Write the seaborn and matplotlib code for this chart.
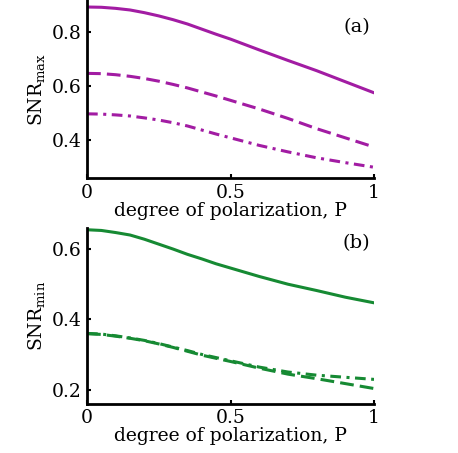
import numpy as np
import matplotlib
matplotlib.use("Agg")
import matplotlib.pyplot as plt
import seaborn as sns

# degree of polarization
P = [0.0, 0.05, 0.1, 0.15, 0.2, 0.25, 0.3, 0.35, 0.4, 0.45, 0.5,
     0.6, 0.7, 0.8, 0.9, 1.0]

# panel (a): SNR_max
snr_max_solid = [0.894, 0.893, 0.889, 0.883, 0.873, 0.861, 0.847, 0.831, 0.812, 0.793, 0.775,
                 0.735, 0.696, 0.658, 0.617, 0.576]
snr_max_dashed = [0.648, 0.647, 0.643, 0.637, 0.629, 0.619, 0.607, 0.594, 0.579, 0.564, 0.548,
                  0.516, 0.481, 0.443, 0.409, 0.375]
snr_max_dashdot = [0.498, 0.497, 0.494, 0.490, 0.483, 0.475, 0.465, 0.453, 0.438, 0.423, 0.409,
                   0.381, 0.357, 0.335, 0.317, 0.300]

# panel (b): SNR_min
snr_min_solid = [0.655, 0.653, 0.647, 0.640, 0.628, 0.614, 0.600, 0.585, 0.572, 0.558, 0.546,
                 0.522, 0.500, 0.482, 0.463, 0.447]
snr_min_dashed = [0.359, 0.357, 0.352, 0.346, 0.339, 0.330, 0.320, 0.309, 0.298, 0.289, 0.280,
                  0.261, 0.244, 0.231, 0.217, 0.203]
snr_min_dashdot = [0.360, 0.358, 0.353, 0.347, 0.340, 0.331, 0.321, 0.311, 0.300, 0.291, 0.282,
                   0.264, 0.250, 0.241, 0.235, 0.229]

purple = '#A21CA3'
green = '#168A33'
dash = (0, (4.5, 2.0))
dashdot = (0, (3.5, 1.8, 1.0, 1.8))

sns.set_style('ticks')
plt.rcParams['font.family'] = ['DejaVu Serif']
plt.rcParams['mathtext.fontset'] = 'dejavuserif'
plt.rcParams['text.color'] = 'black'
plt.rcParams['axes.labelcolor'] = 'black'
plt.rcParams['xtick.color'] = 'black'
plt.rcParams['ytick.color'] = 'black'

fig = plt.figure(figsize=(4.58, 4.53), dpi=100)
ax_a = fig.add_axes([0.19, 0.607, 0.6266, 0.393])
ax_b = fig.add_axes([0.19, 0.109, 0.6266, 0.3877])

lw = 2.2
for ax, ys, col in [(ax_a, (snr_max_solid, snr_max_dashed, snr_max_dashdot), purple),
                    (ax_b, (snr_min_solid, snr_min_dashed, snr_min_dashdot), green)]:
    sns.lineplot(x=P, y=ys[0], ax=ax, color=col, lw=lw, linestyle='-')
    sns.lineplot(x=P, y=ys[1], ax=ax, color=col, lw=lw, linestyle=dash)
    sns.lineplot(x=P, y=ys[2], ax=ax, color=col, lw=lw, linestyle=dashdot)

ax_a.set_ylim(0.26, 0.92)
ax_a.set_yticks([0.4, 0.6, 0.8])
ax_b.set_ylim(0.16, 0.66)
ax_b.set_yticks([0.2, 0.4, 0.6])

for ax in (ax_a, ax_b):
    ax.set_xlim(0, 1)
    ax.set_xticks([0, 0.5, 1])
    ax.set_xticklabels(['0', '0.5', '1'])
    ax.tick_params(direction='in', length=3, width=1.5, labelsize=13.5, pad=4)
    ax.set_xlabel('degree of polarization, P', fontsize=13.5, labelpad=0)
    sns.despine(ax=ax)
    for s in ('left', 'bottom'):
        ax.spines[s].set_linewidth(2)
        ax.spines[s].set_color('black')

ax_a.set_yticklabels(['0.4', '0.6', '0.8'])
ax_b.set_yticklabels(['0.2', '0.4', '0.6'])
ax_a.set_ylabel(r'SNR$_{\mathrm{max}}$', fontsize=13.5, labelpad=3)
ax_b.set_ylabel(r'SNR$_{\mathrm{min}}$', fontsize=13.5, labelpad=3)

ax_a.text(0.94, 0.82, '(a)', fontsize=14, ha='center', va='center')
ax_b.text(0.94, 0.617, '(b)', fontsize=14, ha='center', va='center')

fig.savefig('out.png', dpi=100)
